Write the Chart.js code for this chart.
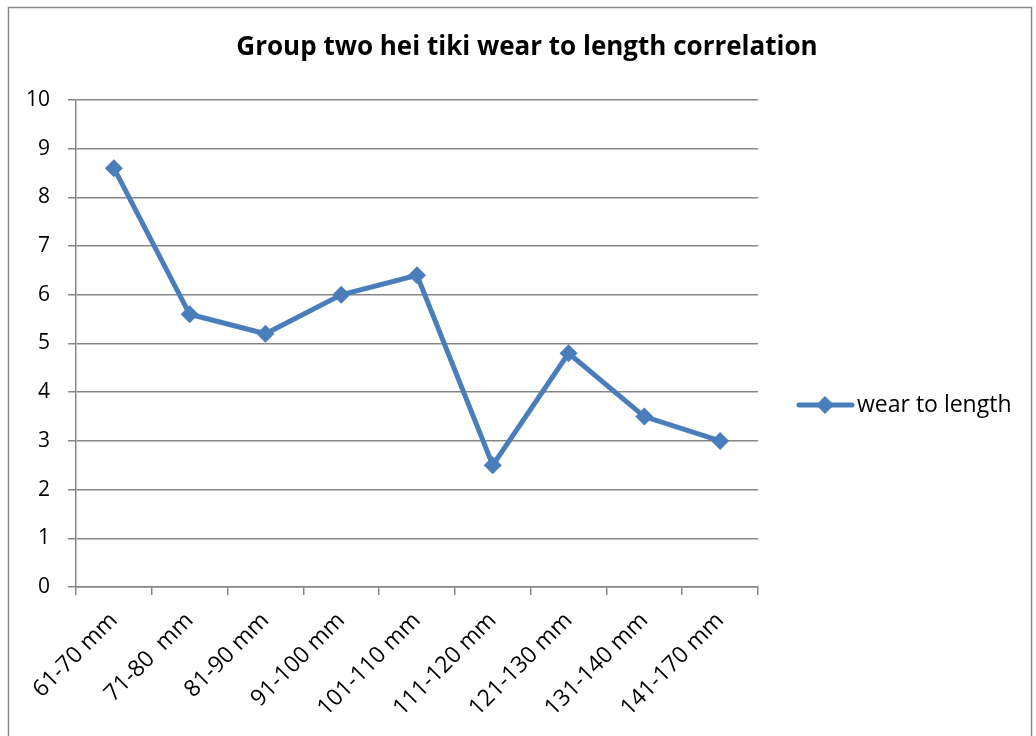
<!DOCTYPE html>
<html>
<head>
<meta charset="utf-8">
<script src="https://cdn.jsdelivr.net/npm/chart.js@4/dist/chart.umd.min.js"></script>
<style>
  html, body { margin: 0; padding: 0; background: #fff; }
  #wrap { width: 1036px; height: 736px; position: relative; }
</style>
</head>
<body>
<div id="wrap"><canvas id="wearChart" width="1036" height="736"></canvas></div>
<script>
var categories = ['61-70 mm', '71-80  mm', '81-90 mm', '91-100 mm', '101-110 mm',
                  '111-120 mm', '121-130 mm', '131-140 mm', '141-170 mm'];
var wearToLength = [8.6, 5.6, 5.2, 6.0, 6.4, 2.5, 4.8, 3.5, 3.0];
var seriesName = 'wear to length';
var chartTitle = 'Group two hei tiki wear to length correlation';
var yTicks = [0, 1, 2, 3, 4, 5, 6, 7, 8, 9, 10];

var blue = '#4A7EBB';
var grey = '#878787';

// outer frame, title (centred on the whole frame) and legend drawn by hand
var framePlugin = {
    id: 'frame',
    afterDraw: function (chart) {
        var c = chart.ctx;
        c.save();
        c.strokeStyle = grey;
        c.lineWidth = 1.5;
        c.beginPath();
        c.moveTo(8.5, 740);
        c.lineTo(8.5, 7.5);
        c.lineTo(1031.5, 7.5);
        c.lineTo(1031.5, 740);
        c.stroke();

        c.fillStyle = '#000';
        c.font = 'bold 26px "Open Sans", sans-serif';
        c.textAlign = 'center';
        c.textBaseline = 'middle';
        c.fillText(chartTitle, 527, 48);

        var ds = chart.data.datasets[0];
        var y = 405;
        c.strokeStyle = ds.borderColor;
        c.lineWidth = 5;
        c.lineCap = 'round';
        c.beginPath();
        c.moveTo(799, y);
        c.lineTo(852, y);
        c.stroke();
        c.fillStyle = ds.borderColor;
        c.beginPath();
        c.moveTo(825, y - 9);
        c.lineTo(834, y);
        c.lineTo(825, y + 9);
        c.lineTo(816, y);
        c.closePath();
        c.fill();
        c.fillStyle = '#000';
        c.font = '23px "Open Sans", sans-serif';
        c.textAlign = 'left';
        c.fillText(ds.label, 857, y);
        c.restore();
    }
};

var ctx = document.getElementById('wearChart').getContext('2d');
var data = {
    labels: categories,
    datasets: [{
        label: seriesName,
        data: wearToLength,
        borderColor: blue,
        backgroundColor: blue,
        borderWidth: 5,
        tension: 0,
        fill: false,
        pointStyle: 'rectRot',
        pointRadius: 9,
        pointHoverRadius: 9,
        pointBackgroundColor: blue,
        pointBorderColor: blue,
        pointBorderWidth: 0
    }]
};

var wearChart = new Chart(ctx, {
    type: 'line',
    data: data,
    plugins: [framePlugin],
    options: {
        responsive: false,
        animation: false,
        layout: { padding: { left: 0, right: 278, top: 100, bottom: 0 } },
        plugins: {
            legend: { display: false },
            tooltip: { enabled: false },
            title: { display: false }
        },
        scales: {
            x: {
                offset: true,
                afterFit: function (axis) { axis.height = 149; },
                grid: {
                    offset: true,
                    drawOnChartArea: false,
                    drawTicks: true,
                    tickLength: 8,
                    color: grey,
                    lineWidth: 1.5
                },
                border: { color: grey, width: 1.5 },
                ticks: {
                    color: '#000',
                    maxRotation: 45,
                    minRotation: 45,
                    padding: 12,
                    autoSkip: false,
                    font: { family: '"Open Sans", sans-serif', size: 23 }
                }
            },
            y: {
                min: 0,
                max: 10,
                afterFit: function (axis) { axis.width = 76; },
                afterBuildTicks: function (axis) {
                    axis.ticks = yTicks.map(function (v) { return { value: v }; });
                },
                grid: {
                    color: grey,
                    lineWidth: 1.5,
                    drawTicks: true,
                    tickLength: 8
                },
                border: { color: grey, width: 1.5 },
                ticks: {
                    color: '#000',
                    padding: 18,
                    font: { family: '"Open Sans", sans-serif', size: 21 }
                }
            }
        }
    }
});
</script>
</body>
</html>
